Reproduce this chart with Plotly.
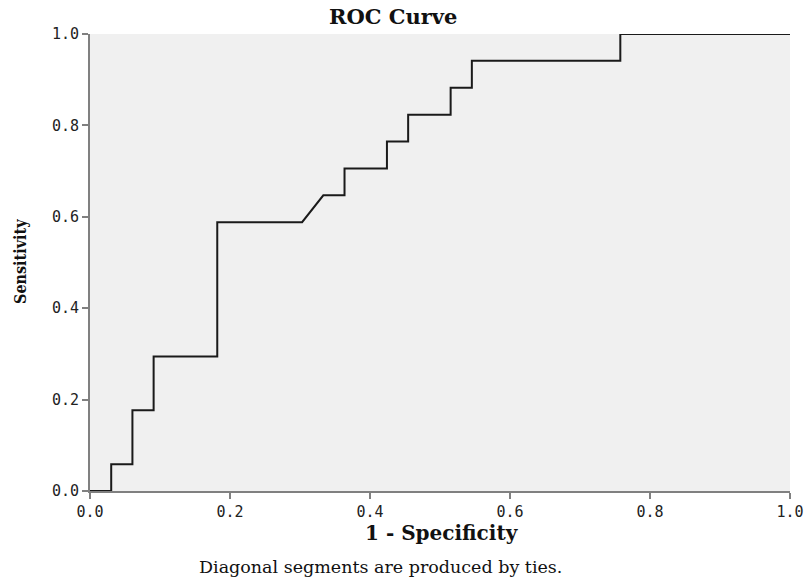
import plotly.graph_objects as go

# ROC curve points (1 - Specificity, Sensitivity)
fpr = [0.0, 0.0303, 0.0303, 0.0606, 0.0606, 0.0909, 0.0909, 0.1818, 0.1818, 0.3030,
       0.3333, 0.3636, 0.3636, 0.4242, 0.4242, 0.4545, 0.4545, 0.5152, 0.5152, 0.5455,
       0.5455, 0.7576, 0.7576, 1.0]
tpr = [0.0, 0.0, 0.0588, 0.0588, 0.1765, 0.1765, 0.2941, 0.2941, 0.5882, 0.5882,
       0.6471, 0.6471, 0.7059, 0.7059, 0.7647, 0.7647, 0.8235, 0.8235, 0.8824, 0.8824,
       0.9412, 0.9412, 1.0, 1.0]
tick_vals = [0.0, 0.2, 0.4, 0.6, 0.8, 1.0]
tick_text = ["0.0", "0.2", "0.4", "0.6", "0.8", "1.0"]

W, H = 804, 579
L, R, T, B = 90, 14, 34, 88

fig = go.Figure()
fig.add_trace(go.Scatter(x=fpr, y=tpr, mode="lines",
                         line=dict(color="#1a1a1a", width=2), hoverinfo="x+y",
                         showlegend=False))

axis_common = dict(
    range=[0, 1], tickvals=tick_vals, ticktext=tick_text, automargin=False,
    showgrid=False, zeroline=False, showline=True, linecolor="#808080", linewidth=2,
    ticks="outside", ticklen=6, tickwidth=2, tickcolor="#808080",
    tickfont=dict(family="DejaVu Sans Mono", size=15, color="#222"),
)

def px_x(p):
    return (p - L) / (W - L - R)

def px_y(p):
    return (H - B - p) / (H - T - B)

fig.update_layout(
    width=W, height=H,
    margin=dict(l=L, r=R, t=T, b=B),
    paper_bgcolor="white", plot_bgcolor="#f0f0f0",
    xaxis=axis_common,
    yaxis=axis_common,
    annotations=[
        dict(text="<b>ROC Curve</b>", x=px_x(393), y=px_y(17), xref="paper", yref="paper",
             xanchor="center", yanchor="middle", showarrow=False,
             font=dict(family="DejaVu Serif", size=21, color="#111")),
        dict(text="<b>1 - Specificity</b>", x=px_x(442), y=px_y(533), xref="paper",
             yref="paper", xanchor="center", yanchor="middle", showarrow=False,
             font=dict(family="DejaVu Serif", size=20, color="#111")),
        dict(text="<b>Sensitivity</b>", x=px_x(20), y=px_y(262), xref="paper",
             yref="paper", xanchor="center", yanchor="middle", showarrow=False,
             textangle=-90,
             font=dict(family="DejaVu Serif Condensed", size=16, color="#111")),
        dict(text="Diagonal segments are produced by ties.", x=px_x(380), y=px_y(567),
             xref="paper", yref="paper", xanchor="center", yanchor="middle",
             showarrow=False,
             font=dict(family="DejaVu Serif", size=17.5, color="#111")),
    ],
)

fig.write_html("out.html")
